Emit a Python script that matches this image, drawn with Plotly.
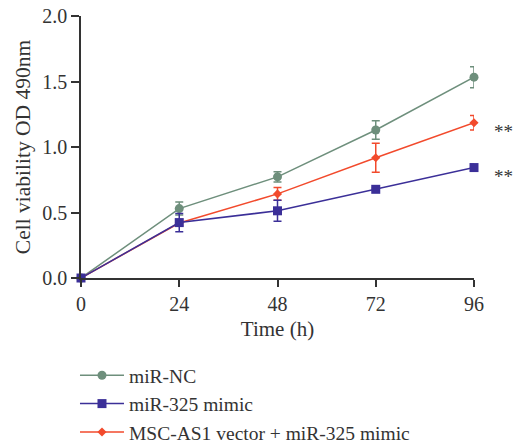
import plotly.graph_objects as go

time_h = [0, 24, 48, 72, 96]
nc_vals = [0.0, 0.53, 0.772, 1.13, 1.533]
nc_err = [0.0, 0.05, 0.04, 0.07, 0.08]
mimic_vals = [0.0, 0.423, 0.513, 0.677, 0.843]
mimic_err = [0.0, 0.07, 0.08, 0.01, 0.025]
vec_vals = [0.0, 0.42, 0.642, 0.918, 1.185]
vec_err = [0.0, 0.02, 0.048, 0.11, 0.056]
names = ["miR-NC", "miR-325 mimic", "MSC-AS1 vector + miR-325 mimic"]
sig_labels = ["**", "**"]
y_ticks = [0, 0.5, 1.0, 1.5, 2.0]
y_ticktext = ["0.0", "0.5", "1.0", "1.5", "2.0"]

FONT = "Liberation Serif"
C_NC = "#6e8f7c"
C_MI = "#3b2f98"
C_VE = "#f24a2c"

fig = go.Figure()
fig.add_trace(go.Scatter(
    x=time_h, y=nc_vals, name=names[0], mode="lines+markers", legendrank=1,
    line=dict(color=C_NC, width=1.5),
    marker=dict(symbol="circle", size=9, color=C_NC),
    error_y=dict(type="data", array=nc_err, color=C_NC, thickness=1.5, width=4),
))
fig.add_trace(go.Scatter(
    x=time_h, y=vec_vals, name=names[2], mode="lines+markers", legendrank=3,
    line=dict(color=C_VE, width=1.5),
    marker=dict(symbol="diamond", size=7, color=C_VE),
    error_y=dict(type="data", array=vec_err, color=C_VE, thickness=1.5, width=4),
))
fig.add_trace(go.Scatter(
    x=time_h, y=mimic_vals, name=names[1], mode="lines+markers", legendrank=2,
    line=dict(color=C_MI, width=1.5),
    marker=dict(symbol="square", size=9, color=C_MI),
    error_y=dict(type="data", array=mimic_err, color=C_MI, thickness=1.5, width=4),
))

for yv, lab in zip([vec_vals[-1], mimic_vals[-1]], sig_labels):
    fig.add_annotation(x=1.0, xref="paper", xshift=18, y=yv, yref="y",
                       text=lab, showarrow=False, xanchor="left",
                       font=dict(family=FONT, size=19, color="#333"), yshift=-9)

fig.update_layout(
    width=514, height=448,
    margin=dict(l=81, r=40, t=16, b=170, autoexpand=False),
    plot_bgcolor="white", paper_bgcolor="white",
    font=dict(family=FONT, size=20, color="#333"),
    showlegend=True,
    legend=dict(x=-0.0153, y=-0.298, xanchor="left", yanchor="top",
                font=dict(family=FONT, size=19.5, color="#333"),
                tracegroupgap=0, itemwidth=44, bgcolor="rgba(0,0,0,0)"),
    xaxis=dict(range=[0, 96], tickvals=time_h, showline=True, linecolor="#333",
               linewidth=1.5, ticks="outside", ticklen=7, tickwidth=1.5,
               tickcolor="#333", showgrid=False, zeroline=False, automargin=False,
               title=dict(text="Time (h)", font=dict(size=21), standoff=8),
               tickfont=dict(size=20)),
    yaxis=dict(range=[0, 2.0], tickvals=y_ticks, ticktext=y_ticktext,
               showline=True, linecolor="#333", linewidth=1.5,
               ticks="outside", ticklen=8, tickwidth=1.5, tickcolor="#333",
               showgrid=False, zeroline=False, automargin=False,
               title=dict(text="Cell viability OD 490nm", font=dict(size=21.5), standoff=6),
               tickfont=dict(size=20)),
)
for tr in fig.data:
    tr.cliponaxis = False

fig.write_html("out.html", config={"displayModeBar": False},
               post_script="document.body.style.margin='0';")
